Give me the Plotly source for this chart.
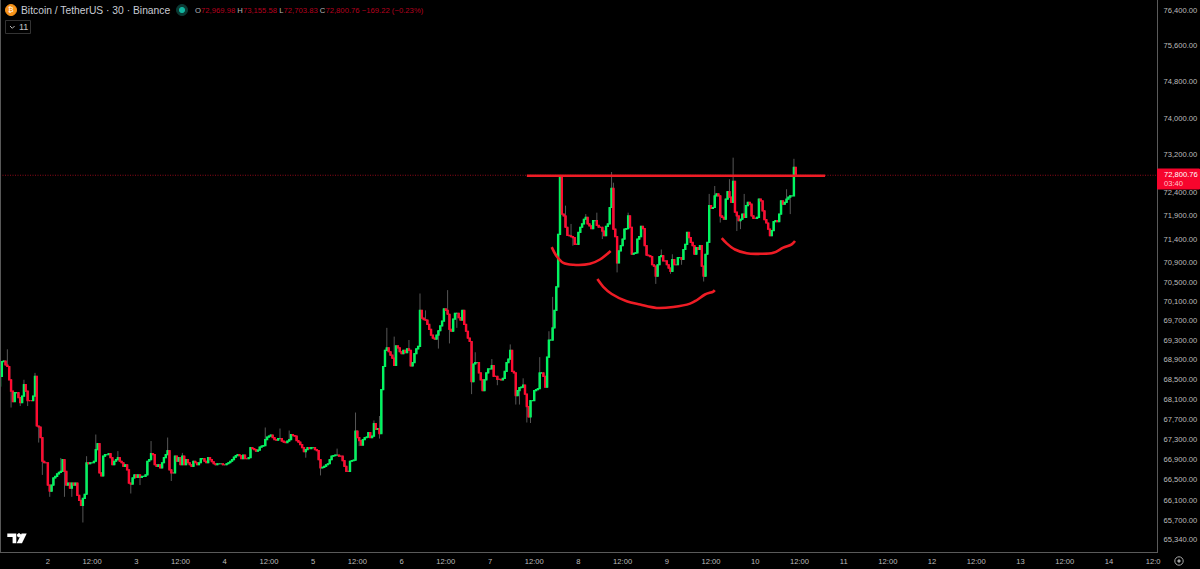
import datetime as dt
import math
import plotly.graph_objects as go

# ---- values -----------------------------------------------------------
start_time = dt.datetime(2026, 4, 1, 11, 0)
view_end = dt.datetime(2026, 4, 14, 13, 3)
first_open = 68400
price_top, price_bottom = 76671, 65129

closes_day1 = [68600,68900,68910,68830,68800,68530,68300,68090,68270,68270,68170,68070,68200,68430,68300,68110,68110,68110,68200,68600,67600,67580,67370,66900,66870,66870]
closes_day2 = [66430,66310,66430,66570,66600,66650,66680,66700,66930,66700,66430,66470,66370,66470,66430,66470,66230,66130,66030,66170,66250,66870,66850,66870,66870,66900,67130,67250,66670,66610,67000,67030,67030,67050,66970,66830,66900,66930,66970,66900,66870,66800,66830,66730,66470,66450,66570,66630]
closes_day3 = [66580,66630,66580,66600,66600,66630,66900,66930,67050,67030,66830,66800,66830,66770,66870,66970,67030,67110,66730,66670,66670,67000,66900,66970,66830,67000,66830,66930,66870,66830,66800,66900,66870,66830,66870,66950,66950,66900,66870,66970,66930,66890,66850,66830,66850,66850,66850,66830]
closes_day4 = [66830,66850,66870,66900,66930,66980,67010,67030,67010,66950,67020,66950,66950,66970,67170,67150,67130,67100,67120,67180,67200,67210,67330,67380,67400,67420,67370,67330,67320,67350,67350,67300,67280,67270,67300,67330,67430,67410,67400,67310,67280,67230,67170,67090,67130,67170,67150,67170]
closes_day5 = [67170,67130,67110,66930,66770,66780,66800,66830,66850,66930,67000,67010,67020,67020,67000,67000,66910,66800,66700,66700,66900,66910,66920,67500,67370,67310,67220,67330,67370,67380,67470,67370,67400,67650,67530,67550,67450,68330,68800,69130,69180,69100,69030,68970,68820,69220,69180,69100]
closes_day6 = [69060,69130,69080,69160,69130,68810,68880,69060,69160,69210,69950,69790,69760,69750,69660,69560,69440,69380,69360,69440,69530,69630,69730,69980,69950,69870,69560,69520,69770,69890,69890,69800,69750,69950,69660,69520,69380,69310,68490,68850,68880,68880,68670,68530,68310,68530,68670,68750]
closes_day7 = [68750,68820,68600,68600,68540,68540,68530,68560,68700,68880,68950,69130,68700,68670,68210,68310,68370,68380,68420,68240,67990,67780,68110,68110,68310,68330,68350,68670,68670,68600,68380,68990,69340,69340,69590,69950,70440,71540,72790,71970,71930,71690,71520,71510,71490,71470,71330,71330]
closes_day8 = [71580,71690,71760,71860,71900,71760,71720,71660,71830,71830,71730,71690,71690,71610,71510,71710,71760,72110,72520,71650,71490,70940,71190,71300,71440,71650,71660,71930,71690,71120,71140,71150,71440,71490,71710,71660,71300,71100,71090,71070,70900,70870,70660,70900,71070,71090,70980,70980]
closes_day9 = [70900,70830,70760,71010,70900,70900,71050,71050,71010,71220,71330,71580,71470,71370,71300,71120,71260,71220,71300,70870,70660,71120,71370,72150,72090,72110,72360,72400,72360,71930,71900,71860,72290,72450,72330,72220,72670,72010,71930,71830,71860,71970,71900,72150,72220,72180,71930,71880]
closes_day10 = [71880,71900,72290,72250,72040,71850,71780,71650,71510,71620,71810,71830,71810,71970,72250,72180,72220,72290,72330,72360,72360,72969.98,72800.76]

wick_highs = {4:69150,13:68530,19:68670,33:66965,47:67000,52:67430,64:67100,82:67300,91:67370,99:67065,144:67570,152:67550,157:67510,183:67150,193:67870,203:67710,206:67800,210:69590,214:69410,222:69340,228:70300,231:69950,243:70370,258:69090,267:68950,277:69250,284:68560,293:68990,298:69520,300:70230,307:72150,310:71760,318:71970,324:72000,332:72870,333:72640,341:72000,359:71220,365:71120,385:72400,388:72570,396:72715,398:73180,404:72400,427:72500,431:73155.58}
wick_lows = {6:67970,11:68000,15:68000,21:67270,23:66630,27:66200,35:66200,39:66200,45:65700,71:66265,76:66430,79:66800,93:66510,166:66970,174:66620,195:67200,206:67350,238:69165,244:69270,248:69590,256:68240,270:68420,280:68030,282:68030,286:67670,288:67660,311:71300,327:71440,335:70740,356:70500,364:70710,370:70900,382:70550,391:71790,400:71610,402:71650,429:71970,431:72703.83}

last_price = 72800.76
level_idx, level_price = [286, 447.9], [72790, 72790]
stroke1_idx = [299.5,302.2,305.8,311.2,320.3,325.7,331.5]
stroke1_price = [71270,71080,70940,70900,70920,71010,71190]
stroke2_idx = [324.3,327.5,332.1,340.2,347.5,356.5,365.5,374.6,378.2,382.7,387.2,388]
stroke2_price = [70600,70440,70290,70140,70070,70000,70020,70090,70160,70280,70340,70370]
stroke3_idx = [391.8,394.5,399,405.4,412.6,419.8,425.2,429.8,431.6]
stroke3_price = [71460,71350,71220,71140,71130,71150,71260,71330,71400]

price_ticks = [76400,75600,74800,74000,73200,72400,71900,71400,70900,70500,70100,69700,69300,68900,68500,68100,67700,67300,66900,66500,66100,65700,65340]
time_ticks = ["2026-04-01 12:00","2026-04-02","2026-04-02 12:00","2026-04-03","2026-04-03 12:00","2026-04-04","2026-04-04 12:00","2026-04-05","2026-04-05 12:00","2026-04-06","2026-04-06 12:00","2026-04-07","2026-04-07 12:00","2026-04-08","2026-04-08 12:00","2026-04-09","2026-04-09 12:00","2026-04-10","2026-04-10 12:00","2026-04-11","2026-04-11 12:00","2026-04-12","2026-04-12 12:00","2026-04-13","2026-04-13 12:00","2026-04-14","2026-04-14 12:00"]
time_labels = ["12:00","2","12:00","3","12:00","4","12:00","5","12:00","6","12:00","7","12:00","8","12:00","9","12:00","10","12:00","11","12:00","12","12:00","13","12:00","14","12:0"]

# ---- assemble candles --------------------------------------------------
closes = closes_day1+closes_day2+closes_day3+closes_day4+closes_day5+closes_day6+closes_day7+closes_day8+closes_day9+closes_day10
opens = [first_open]+closes[:-1]
def at(i):
    return start_time+dt.timedelta(minutes=30*i)
times = [at(i) for i in range(len(closes))]
tops = [max(o,c) for o,c in zip(opens,closes)]
bots = [min(o,c) for o,c in zip(opens,closes)]
highs = [max(wick_highs.get(i,t),t) for i,t in enumerate(tops)]
lows = [min(wick_lows.get(i,b),b) for i,b in enumerate(bots)]

GREEN, RED, WICK, INK, AXIS = "#00f560", "#ff0a30", "#565656", "#bdbdbd", "#5a5a5a"
FONT = "Liberation Sans, Arial, sans-serif"
W, H = 1157, 552

fig = go.Figure()
fig.add_trace(go.Candlestick(x=times, open=opens, high=highs, low=lows, close=closes, whiskerwidth=0,
    increasing=dict(line=dict(color=WICK,width=1),fillcolor=WICK),
    decreasing=dict(line=dict(color=WICK,width=1),fillcolor=WICK), hoverinfo="skip", showlegend=False))
fig.add_trace(go.Candlestick(x=times, open=opens, high=tops, low=bots, close=closes, whiskerwidth=0,
    increasing=dict(line=dict(color=GREEN,width=1.2),fillcolor=GREEN),
    decreasing=dict(line=dict(color=RED,width=1.2),fillcolor=RED), hoverinfo="skip", showlegend=False))
fig.add_trace(go.Scatter(x=[start_time,view_end], y=[last_price,last_price], mode="lines",
    line=dict(color="#8f0a1a",width=1,dash="1px,1.5px"), hoverinfo="skip", showlegend=False))
fig.add_trace(go.Scatter(x=[at(i) for i in level_idx], y=level_price, mode="lines",
    line=dict(color="#ee1c25",width=2.3), hoverinfo="skip", showlegend=False))
for si,sp in [(stroke1_idx,stroke1_price),(stroke2_idx,stroke2_price),(stroke3_idx,stroke3_price)]:
    fig.add_trace(go.Scatter(x=[at(i) for i in si], y=sp, mode="lines",
        line=dict(color="#ee1c25",width=2.6,shape="spline"), hoverinfo="skip", showlegend=False))

# ---- page furniture, placed in pixels -----------------------------------
def px(x): return x/W
def py(y): return 1-y/H
shapes, notes = [], []
def circle(cx,cy,r,fill,line=None):
    shapes.append(dict(type="circle",xref="paper",yref="paper",x0=px(cx-r),x1=px(cx+r),y0=py(cy-r),y1=py(cy+r),
        fillcolor=fill,line=dict(color=line or fill,width=1)))
def box(x0,y0,x1,y1,fill,line=None):
    shapes.append(dict(type="rect",xref="paper",yref="paper",x0=px(x0),x1=px(x1),y0=py(y0),y1=py(y1),
        fillcolor=fill,line=dict(color=line or fill,width=1)))
def poly(points,fill=None,line=None,close=True):
    d="M"+" L".join(f"{px(a):.5f},{py(b):.5f}" for a,b in points)+(" Z" if close else "")
    shapes.append(dict(type="path",xref="paper",yref="paper",path=d,fillcolor=fill or "rgba(0,0,0,0)",
        line=dict(color=line or "rgba(0,0,0,0)",width=1)))
def text(x,y,s,size=8,color=INK,anchor="left"):
    notes.append(dict(xref="paper",yref="paper",x=px(x),y=py(y),text=s,showarrow=False,xanchor=anchor,yanchor="middle",
        align=anchor,font=dict(family=FONT,size=size,color=color),borderpad=0))

# left border
poly([(0.5,0),(0.5,552)],line=AXIS,close=False)
# header
circle(11,10,5.5,"#f7931a")
text(11,10,"₿",size=7.5,color="#ffffff",anchor="center")
text(20,10.5,"Bitcoin / TetherUS · 30 · Binance",size=10.3,color="#c9ccd3")
circle(182,10,5.5,"#0b3a34")
circle(182,10,2.6,"#12b5a0")
V="#b5001f"
text(194,10.5,f'O<span style="color:{V}">72,969.98</span> H<span style="color:{V}">73,155.58</span> L<span style="color:{V}">72,703.83</span> C<span style="color:{V}">72,800.76</span> <span style="color:{V}">−169.22 (−0.23%)</span>',size=7.7,color="#b8b8b8")
# indicator counter box
box(5.5,20.5,30.5,33.5,"#000000","#333333")
poly([(10,26),(12.3,28.3),(14.6,26)],line="#b8b8b8",close=False)
text(18,27,"11",size=9,color="#c4c4c4")
# price tag
box(1157.5,169,1199.5,189,"#f7052d")
text(1163,174.5,"72,800.76",size=7.6,color="#ffffff")
text(1163,183.5,"03:40",size=7.6,color="#ffc4cc")
# TradingView mark
poly([(7.3,533.5),(16.3,533.5),(16.3,543.3),(12.6,543.3),(12.6,537),(7.3,537)],fill="#ffffff")
circle(19,535.3,1.6,"#ffffff")
poly([(21.6,533.5),(26.7,533.5),(22,543.3),(16.7,543.3)],fill="#ffffff")
# settings glyph
circle(1179,561,4.2,"rgba(0,0,0,0)","#a8a8a8")
circle(1179,561,1.2,"#a8a8a8")

fig.update_layout(width=1200,height=569,margin=dict(l=0,r=43,t=0,b=17,pad=0),paper_bgcolor="#000000",plot_bgcolor="#000000",
    showlegend=False,shapes=shapes,annotations=notes,boxgap=0.1,dragmode=False,
    font=dict(family=FONT,size=7.6,color=INK),
    xaxis=dict(type="date",range=[start_time,view_end],rangeslider=dict(visible=False),showgrid=False,zeroline=False,
        tickmode="array",tickvals=time_ticks,ticktext=time_labels,tickangle=0,ticks="",showline=True,linecolor=AXIS,linewidth=1,
        ticklabelstandoff=2,tickfont=dict(family=FONT,size=7.6,color=INK)),
    yaxis=dict(type="log",side="right",range=[math.log10(price_bottom),math.log10(price_top)],showgrid=False,zeroline=False,tickmode="array",tickvals=price_ticks,
        ticktext=[f"{v:,.2f}" for v in price_ticks],ticks="",showline=True,linecolor=AXIS,linewidth=1,ticklabelstandoff=4,ticklabelshift=-2,
        tickfont=dict(family=FONT,size=7.6,color=INK)))
fig.write_html("out.html",config=dict(displayModeBar=False),
    post_script="document.body.style.margin='0';document.body.style.background='#000';document.body.style.overflow='hidden';")
